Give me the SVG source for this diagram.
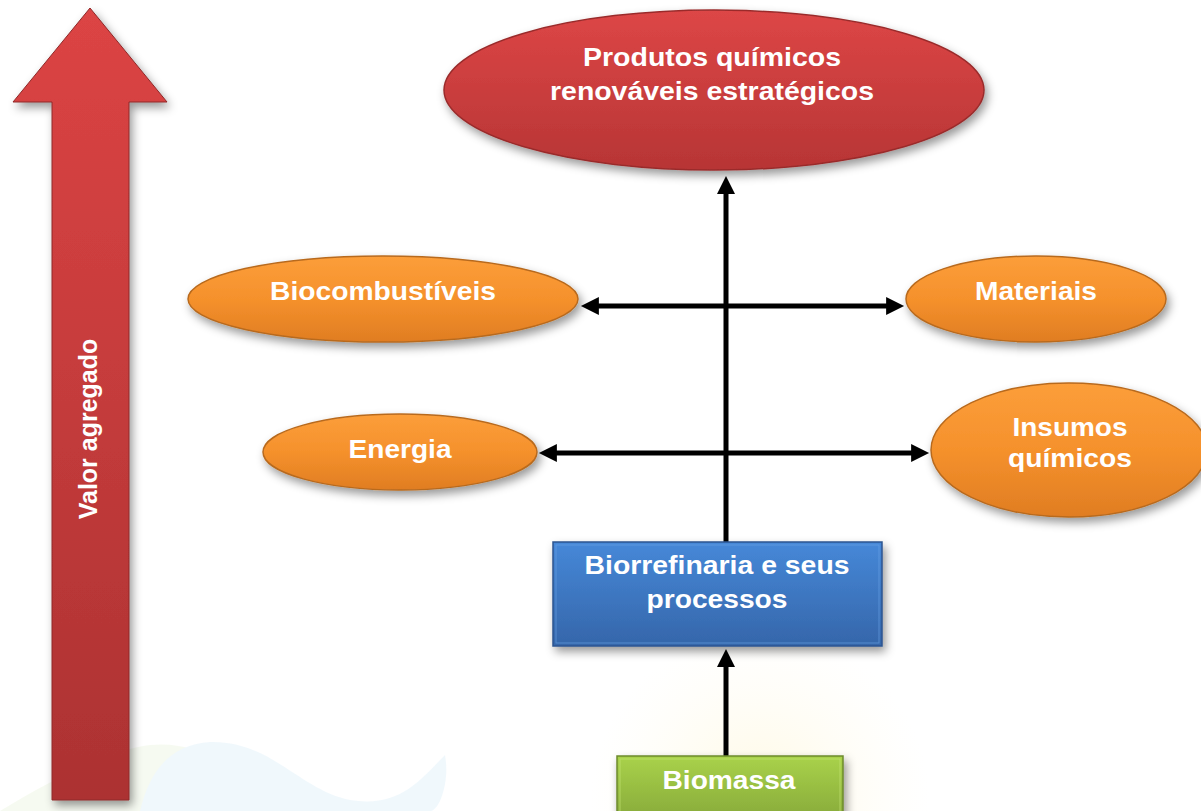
<svg xmlns="http://www.w3.org/2000/svg" width="1201" height="811" viewBox="0 0 1201 811">
  <style>
    .lbl { font-family: "Liberation Sans", Arial, sans-serif; font-weight: bold; font-size: 25px; fill: #ffffff; text-anchor: middle; }
    .conn { stroke: #000000; stroke-width: 5; fill: none; }
  </style>
  <defs>
    <linearGradient id="gRed" x1="0" y1="0" x2="0" y2="1">
      <stop offset="0" stop-color="#dd4646"/>
      <stop offset="1" stop-color="#b73535"/>
    </linearGradient>
    <linearGradient id="gArrow" x1="0" y1="0" x2="0" y2="1">
      <stop offset="0" stop-color="#dc4444"/>
      <stop offset="1" stop-color="#ac3232"/>
    </linearGradient>
    <linearGradient id="gOrange" x1="0" y1="0" x2="0" y2="1">
      <stop offset="0" stop-color="#fc9e3a"/>
      <stop offset="0.5" stop-color="#f5912c"/>
      <stop offset="1" stop-color="#e07d22"/>
    </linearGradient>
    <linearGradient id="gBlue" x1="0" y1="0" x2="0" y2="1">
      <stop offset="0" stop-color="#4688d8"/>
      <stop offset="1" stop-color="#3566aa"/>
    </linearGradient>
    <linearGradient id="gGreen" x1="0" y1="0" x2="0" y2="1">
      <stop offset="0" stop-color="#a9d24a"/>
      <stop offset="1" stop-color="#88ab3b"/>
    </linearGradient>
    <radialGradient id="gSun" cx="0.5" cy="0.5" r="0.5">
      <stop offset="0" stop-color="#fff2bf" stop-opacity="0.9"/>
      <stop offset="1" stop-color="#fff8e0" stop-opacity="0"/>
    </radialGradient>
    <filter id="sh" x="-20%" y="-20%" width="140%" height="150%">
      <feDropShadow dx="3" dy="5" stdDeviation="5" flood-color="#000000" flood-opacity="0.4"/>
    </filter>
    <marker id="ah" viewBox="0 0 10 10" refX="0.5" refY="5" markerUnits="userSpaceOnUse" markerWidth="19" markerHeight="18" orient="auto-start-reverse">
      <path d="M0,0 L10,5 L0,10 z" fill="#000000"/>
    </marker>
  </defs>

  <rect width="1201" height="811" fill="#ffffff"/>

  <g id="background" opacity="0.5">
    <circle cx="760" cy="800" r="170" fill="url(#gSun)"/>
    <path d="M0,811 C60,775 110,750 150,745 C200,740 240,770 280,800 L300,811 Z" fill="#eef6e4"/>
    <path d="M140,811 C150,770 170,745 210,742 C270,740 300,790 350,800 C400,808 420,780 445,755 C450,780 440,811 430,811 Z" fill="#e3f2fa"/>
  </g>

  <g id="valor-agregado">
    <polygon points="90,8 167,102 129,102 129,800 52,800 52,102 13,102" fill="url(#gArrow)" stroke="#8e2828" stroke-width="1" filter="url(#sh)"/>
    <text class="lbl" transform="translate(97,429) rotate(-90)">Valor agregado</text>
  </g>

  <g id="connectors">
    <line class="conn" x1="726" y1="542" x2="726" y2="193" marker-end="url(#ah)"/>
    <line class="conn" x1="726" y1="756" x2="726" y2="666" marker-end="url(#ah)"/>
    <line class="conn" x1="598" y1="306" x2="887" y2="306" marker-start="url(#ah)" marker-end="url(#ah)"/>
    <line class="conn" x1="556" y1="453" x2="912" y2="453" marker-start="url(#ah)" marker-end="url(#ah)"/>
  </g>

  <g id="produtos">
    <ellipse cx="714" cy="90" rx="270" ry="80" fill="url(#gRed)" stroke="#9a2c2c" stroke-width="1.5" filter="url(#sh)"/>
    <text class="lbl" x="712" y="66" textLength="258" lengthAdjust="spacingAndGlyphs">Produtos químicos</text>
    <text class="lbl" x="712" y="100" textLength="324" lengthAdjust="spacingAndGlyphs">renováveis estratégicos</text>
  </g>

  <g id="biocombustiveis">
    <ellipse cx="383" cy="299" rx="195" ry="43" fill="url(#gOrange)" stroke="#b86a1f" stroke-width="1.5" filter="url(#sh)"/>
    <text class="lbl" x="383" y="300" textLength="226" lengthAdjust="spacingAndGlyphs">Biocombustíveis</text>
  </g>

  <g id="materiais">
    <ellipse cx="1036" cy="299" rx="130" ry="43" fill="url(#gOrange)" stroke="#b86a1f" stroke-width="1.5" filter="url(#sh)"/>
    <text class="lbl" x="1036" y="300" textLength="122" lengthAdjust="spacingAndGlyphs">Materiais</text>
  </g>

  <g id="energia">
    <ellipse cx="400" cy="452" rx="137" ry="38" fill="url(#gOrange)" stroke="#b86a1f" stroke-width="1.5" filter="url(#sh)"/>
    <text class="lbl" x="400" y="458" textLength="103" lengthAdjust="spacingAndGlyphs">Energia</text>
  </g>

  <g id="insumos">
    <ellipse cx="1069" cy="450" rx="138" ry="67" fill="url(#gOrange)" stroke="#b86a1f" stroke-width="1.5" filter="url(#sh)"/>
    <text class="lbl" x="1070" y="436" textLength="115" lengthAdjust="spacingAndGlyphs">Insumos</text>
    <text class="lbl" x="1070" y="467" textLength="124" lengthAdjust="spacingAndGlyphs">químicos</text>
  </g>

  <g id="biorrefinaria">
    <rect x="553" y="542" width="329" height="104" fill="url(#gBlue)" stroke="#2b5590" stroke-width="1.5" filter="url(#sh)"/>
    <rect x="556" y="545" width="323" height="98" fill="none" stroke="#6aa3e6" stroke-width="1" opacity="0.6"/>
    <text class="lbl" x="717" y="574" textLength="265" lengthAdjust="spacingAndGlyphs">Biorrefinaria e seus</text>
    <text class="lbl" x="717" y="608" textLength="141" lengthAdjust="spacingAndGlyphs">processos</text>
  </g>

  <g id="biomassa">
    <rect x="617" y="756" width="226" height="62" fill="url(#gGreen)" stroke="#6d8a2c" stroke-width="1.5" filter="url(#sh)"/>
    <rect x="620" y="759" width="220" height="60" fill="none" stroke="#c8e87a" stroke-width="1" opacity="0.6"/>
    <text class="lbl" x="729" y="789" textLength="133" lengthAdjust="spacingAndGlyphs">Biomassa</text>
  </g>
</svg>
